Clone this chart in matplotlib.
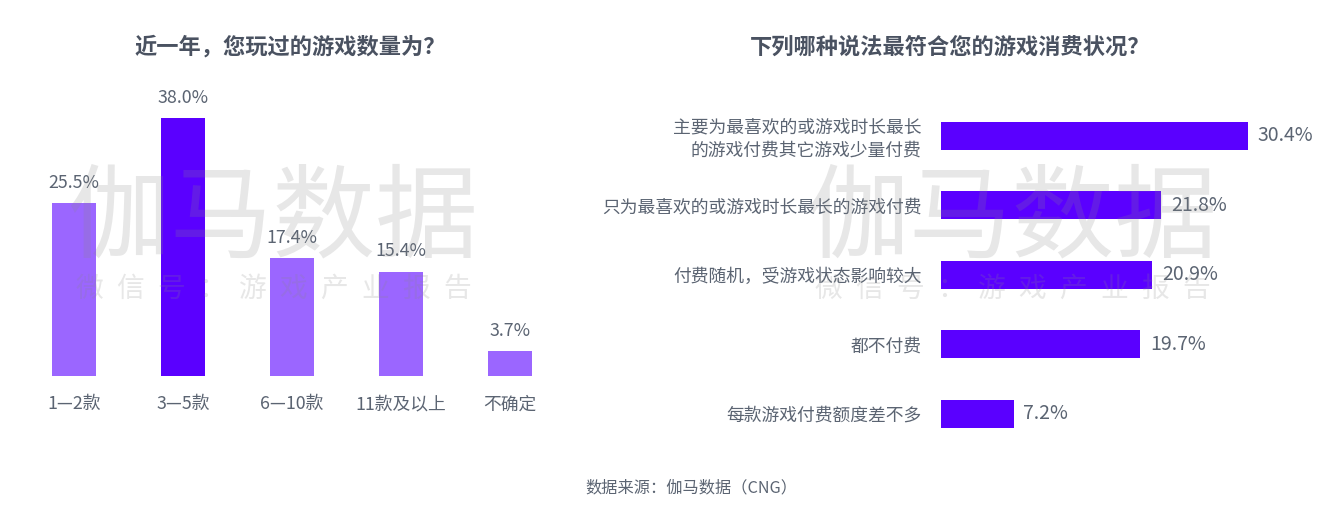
import matplotlib
matplotlib.use("Agg")
import matplotlib.pyplot as plt

plt.rcParams['font.family'] = ['Noto Sans CJK SC', 'DejaVu Sans']

# left chart data
count_labels = ["1—2款", "3—5款", "6—10款", "11款及以上", "不确定"]
count_values = [25.5, 38.0, 17.4, 15.4, 3.7]

# right chart data
pay_labels = ["主要为最喜欢的或游戏时长最长\n的游戏付费其它游戏少量付费",
              "只为最喜欢的或游戏时长最长的游戏付费",
              "付费随机，受游戏状态影响较大",
              "都不付费",
              "每款游戏付费额度差不多"]
pay_values = [30.4, 21.8, 20.9, 19.7, 7.2]

W, H = 1342, 522
LIGHT = "#9B66FF"
DARK = "#5A00FF"
TXT = "#5b6472"
TITLE = "#4a5261"

fig = plt.figure(figsize=(W / 100, H / 100), dpi=100)


def box(x0, y_top, x1, y_bot):
    return [x0 / W, 1 - y_bot / H, (x1 - x0) / W, (y_bot - y_top) / H]


# ---- left: vertical bars
ax1 = fig.add_axes(box(19.5, 91, 564.5, 376))
colors = [DARK if v == max(count_values) else LIGHT for v in count_values]
ax1.bar(range(len(count_values)), count_values, width=0.4, color=colors)
ax1.set_xlim(-0.5, len(count_values) - 0.5)
ax1.set_ylim(0, 42)
for i, v in enumerate(count_values):
    ax1.annotate(f"{v:.1f}%", (i, v), xytext=(0, 8), textcoords="offset points",
                 ha="center", va="bottom", fontsize=12.8, color=TXT)
ax1.set_xticks(range(len(count_labels)))
ax1.set_xticklabels(count_labels, fontsize=12.8, color=TXT)
ax1.tick_params(axis="x", length=0, pad=14)
ax1.set_yticks([])
for s in ax1.spines.values():
    s.set_visible(False)

# ---- right: horizontal bars
ax2 = fig.add_axes(box(941, 101, 1325, 448.5))
ax2.barh(range(len(pay_values)), pay_values, height=0.4, color=DARK)
ax2.set_ylim(len(pay_values) - 0.5, -0.5)
ax2.set_xlim(0, 38)
for i, v in enumerate(pay_values):
    ax2.annotate(f"{v:.1f}%", (v, i), xytext=(7, 0), textcoords="offset points",
                 ha="left", va="center", fontsize=14, color=TXT)
ax2.set_yticks(range(len(pay_labels)))
ax2.set_yticklabels(pay_labels, fontsize=12.8, color=TXT, linespacing=1.25)
ax2.tick_params(axis="y", length=0, pad=14)
ax2.set_xticks([])
for s in ax2.spines.values():
    s.set_visible(False)

# titles
fig.text(290 / W, 1 - 47 / H, "近一年，您玩过的游戏数量为？", ha="center", va="center",
         fontsize=16, fontweight="bold", color=TITLE)
fig.text(950 / W, 1 - 47 / H, "下列哪种说法最符合您的游戏消费状况？", ha="center", va="center",
         fontsize=16, fontweight="bold", color=TITLE)

# watermarks, drawn on top of the bars
for cx in (273, 1012):
    fig.text(cx / W, 1 - 220 / H, "伽马数据", ha="center", va="center", fontsize=74,
             color="#888888", alpha=0.2, zorder=10)
    for k, ch in enumerate("微信号：游戏产业报告"):
        fig.text((cx - 184 + k * 40.9) / W, 1 - 289 / H, ch, ha="center", va="center",
                 fontsize=20, color="#888888", alpha=0.2, zorder=10)

# source
fig.text(691 / W, 1 - 488 / H, "数据来源：伽马数据（CNG）", ha="center", va="center",
         fontsize=11.7, color=TXT)

fig.savefig("out.png", dpi=100)
